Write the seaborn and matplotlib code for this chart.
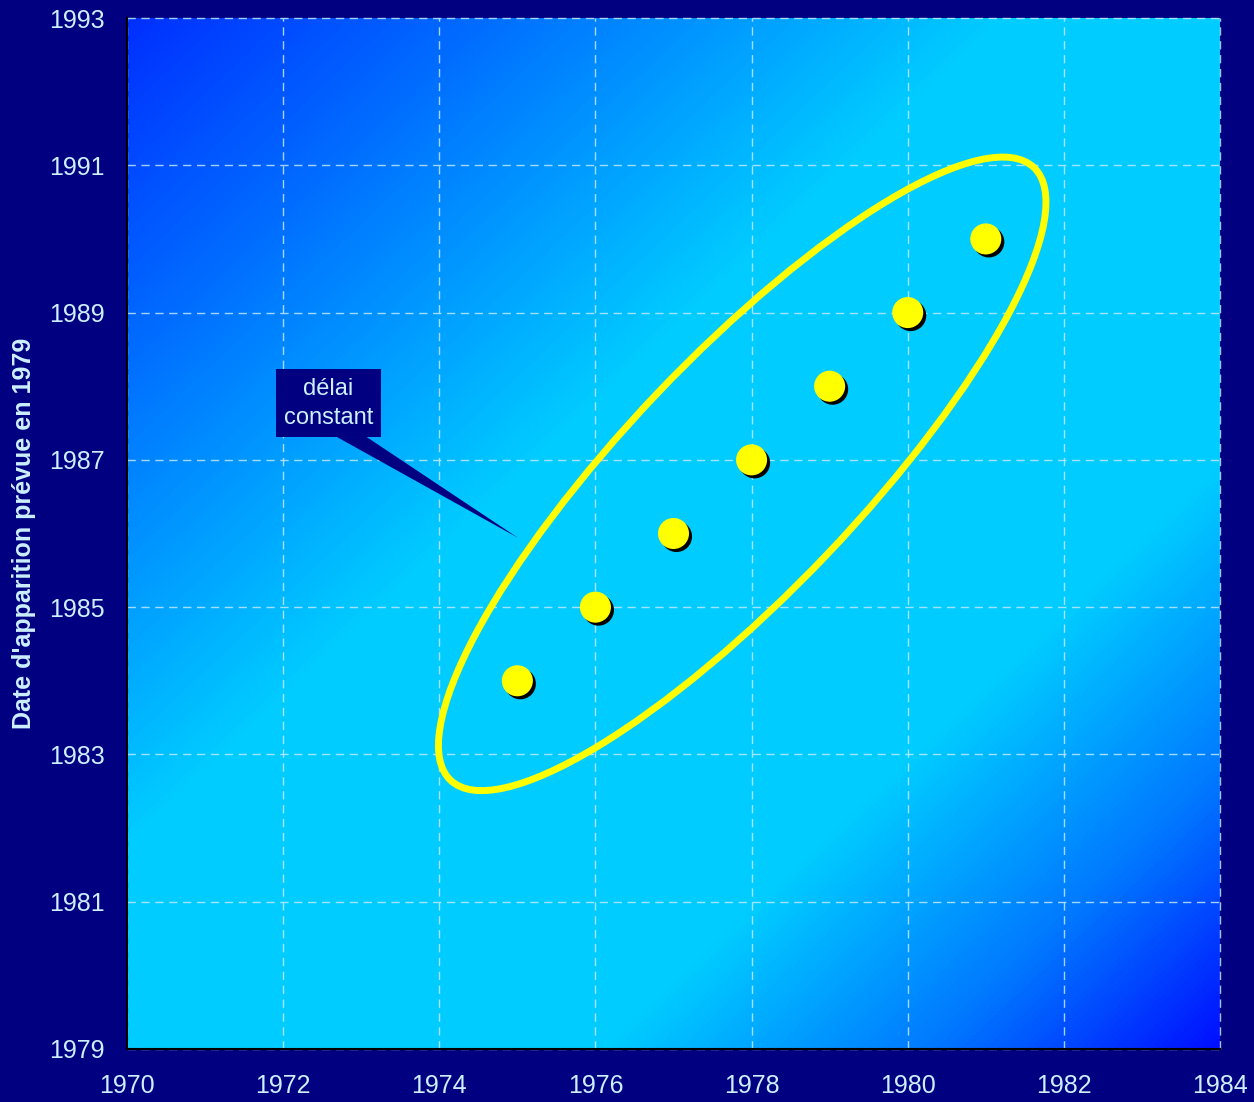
import numpy as np
import pandas as pd
import matplotlib
import matplotlib.pyplot as plt
import matplotlib.transforms as mtransforms
from matplotlib.patches import Ellipse, Rectangle, Polygon
from matplotlib.colors import LinearSegmentedColormap
import seaborn as sns

# data
years_2 = [1975, 1976, 1977, 1978, 1979, 1980, 1981]
date_prevue = [1984, 1985, 1986, 1987, 1988, 1989, 1990]
xticks = [1970, 1972, 1974, 1976, 1978, 1980, 1982, 1984]
yticks = [1979, 1981, 1983, 1985, 1987, 1989, 1991, 1993]
ylabel = "Date d'apparition prévue en 1979"
callout = "délai\nconstant"

df = pd.DataFrame({"annee": years_2, "prevue": date_prevue})

navy = "#000080"
txt = "#ccf0ff"

sns.set_style("white")
plt.rcParams["font.family"] = ["Liberation Sans", "DejaVu Sans"]

fig = plt.figure(figsize=(12.54, 11.02), dpi=100, facecolor=navy)
ax = fig.add_axes([127 / 1254, 53 / 1102, 1093 / 1254, 1031 / 1102])
ax.set_facecolor(navy)

# diagonal gradient background
cmap = LinearSegmentedColormap.from_list(
    "bg", [(0, "#0030ff"), (0.15, "#0068ff"), (0.4, "#00ccff"),
           (0.72, "#00ccff"), (0.87, "#0078ff"), (1, "#0010ff")]
)
u, v = np.meshgrid(np.linspace(0, 1, 300), np.linspace(1, 0, 300))
t = (u + (1 - v)) / 2
ax.imshow(t, cmap=cmap, extent=[0, 1, 0, 1], transform=ax.transAxes,
          aspect="auto", zorder=0, vmin=0, vmax=1)

# shadow then points
sns.scatterplot(data=df, x="annee", y="prevue", color="black", s=500,
                edgecolor="none", ax=ax, zorder=4)
shadow = mtransforms.ScaledTranslation(3 / 100, -3 / 100, fig.dpi_scale_trans)
ax.collections[-1].set_offset_transform(ax.transData + shadow)
sns.scatterplot(data=df, x="annee", y="prevue", color="#ffff00", s=500,
                edgecolor="none", ax=ax, zorder=5)

ax.set_xlim(1970, 1984)
ax.set_ylim(1979, 1993)
ax.set_xticks(xticks)
ax.set_yticks(yticks)

# ellipse around points (in pixel units)
ell_tr = mtransforms.IdentityTransform() + mtransforms.ScaledTranslation(
    1977.88, 1986.81, ax.transData)
ax.add_patch(Ellipse((0, 0), 2 * 423, 2 * 117, angle=46.4, transform=ell_tr,
                     fill=False, edgecolor="#ffff00", linewidth=5, zorder=3))

# callout
ax.add_patch(Rectangle((1971.91, 1987.31), 1.34, 0.92, facecolor=navy,
                       edgecolor="none", zorder=6))
ax.add_patch(Polygon([(1972.69, 1987.31), (1973.07, 1987.31), (1975.01, 1985.94)],
                     closed=True, facecolor=navy, edgecolor="none", zorder=6))
ax.text(1972.58, 1987.77, callout, ha="center", va="center", color=txt,
        fontsize=17, linespacing=1.4, zorder=7)

ax.grid(True, color="#c0e8ff", linestyle=(0, (6, 4)), linewidth=1, alpha=0.85)
for gl in ax.get_xgridlines() + ax.get_ygridlines():
    gl.set_clip_on(False)
    gl.set_zorder(1)

for s in ["top", "right"]:
    ax.spines[s].set_visible(False)
for s in ["left", "bottom"]:
    ax.spines[s].set_color("black")
    ax.spines[s].set_linewidth(1.5)
    ax.spines[s].set_zorder(2)

ax.tick_params(axis="x", length=0, pad=18, labelsize=18, labelcolor=txt)
ax.tick_params(axis="y", length=0, pad=16, labelsize=18, labelcolor=txt)
ax.set_xlabel("")
ax.set_ylabel(ylabel, color=txt, fontsize=18, fontweight="bold")
ax.yaxis.set_label_coords(-0.083, 0.5)

fig.savefig("out.png", dpi=100, facecolor=navy)
